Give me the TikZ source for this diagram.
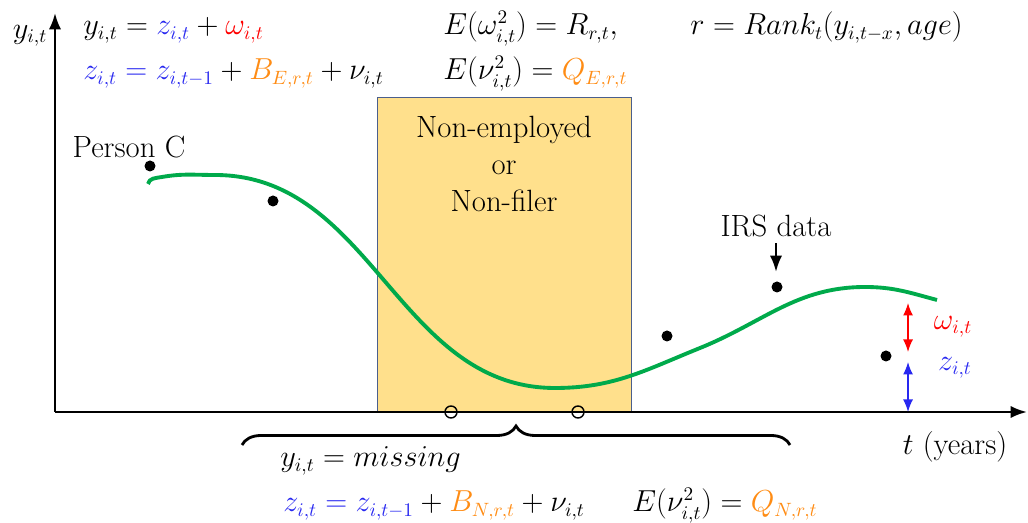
\documentclass[tikz,border=0pt]{standalone}
\usepackage{xcolor}
\usetikzlibrary{arrows.meta,decorations.pathreplacing}
\definecolor{zblue}{RGB}{40,40,240}
\definecolor{borange}{RGB}{255,140,20}
\definecolor{curvegreen}{RGB}{0,170,75}
\definecolor{boxfill}{RGB}{255,224,140}
\definecolor{boxline}{RGB}{75,95,140}

\begin{document}
\begin{tikzpicture}[>=Latex,font=\fontsize{16.3}{19}\selectfont,lbl/.style={font=\fontsize{17.5}{21}\selectfont},axis/.style={->,line width=1.4pt},obs/.style={circle,fill=black,inner sep=0pt,minimum size=0.22cm},gap/.style={circle,draw=black,thick,inner sep=0pt,minimum size=0.24cm},eqn/.style={anchor=base west,inner sep=0pt},component/.style={{Latex[length=2.5mm,width=2mm]}-{Latex[length=2.5mm,width=2mm]},thick}]
\useasboundingbox (0,0) rectangle (20.56,10.46);
\node[draw=boxline,line width=0.8pt,fill=boxfill,minimum width=5.08cm,minimum height=6.28cm,anchor=south west,inner sep=0pt] (gapbox) at (7.54,2.22) {};
\node[lbl,align=center,anchor=north] (gaptext) at (10.08,8.26) {Non-employed\\or\\Non-filer};
\coordinate (origin) at (1.10,2.22);
\coordinate (ytop) at (1.10,10.20);
\coordinate (xend) at (20.54,2.22);
\draw[axis] (origin) -- (ytop);
\draw[axis] (origin) -- (xend);
\node (ylabel) at (0.60,9.74) {$y_{i,t}$};
\node[lbl] (xlabel) at (19.10,1.52) {$t$ (years)};
\draw[curvegreen,line width=2.2pt] (2.96,6.78) to[out=80,in=190] (3.24,6.92) to[out=10,in=180] (4.30,6.96) to[out=0,in=180] (11.10,2.70) to[out=0,in=202] (14.00,3.50) to[out=22,in=180] (17.30,4.72) to[out=0,in=165] (18.74,4.46);
\node[obs] (pC1) at (3.00,7.14) {};
\node[obs] (pC2) at (5.46,6.44) {};
\node[obs] (pC3) at (13.34,3.74) {};
\node[obs] (pC4) at (15.54,4.72) {};
\node[obs] (pC5) at (17.72,3.34) {};
\node[gap] (miss1) at (9.02,2.22) {};
\node[gap] (miss2) at (11.56,2.22) {};
\node[lbl] (personC) at (2.58,7.52) {Person C};
\node[lbl] (irs) at (15.52,5.94) {IRS data};
\draw[->,line width=1.4pt] (irs.south) -- (15.52,5.02);
\coordinate (omtop) at (18.16,4.40);
\coordinate (ombot) at (18.16,3.42);
\coordinate (ztop) at (18.16,3.22);
\draw[component,red] (omtop) -- (ombot);
\draw[component,zblue] (ztop) -- (origin -| ztop);
\node[red] (omlabel) at (19.06,3.92) {$\omega_{i,t}$};
\node[zblue] (zlabel) at (19.10,3.10) {$z_{i,t}$};
\draw[decorate,decoration={brace,amplitude=0.38cm},line width=1.6pt] (4.84,1.56) -- (15.80,1.56);
\node[eqn] (missing) at (5.60,1.12) {$y_{i,t} = missing$};
\node[eqn] (eqN1) at (5.66,0.22) {$\color{zblue}z_{i,t} = z_{i,t-1}\color{black} + \color{borange}B_{N,r,t}\color{black} + \nu_{i,t}$};
\node[eqn] (eqN2) at (12.64,0.22) {$E(\nu_{i,t}^2) = \color{borange}Q_{N,r,t}$};
% model equations
\node[eqn] (eqE1) at (1.66,9.76) {$y_{i,t} = \color{zblue}z_{i,t}\color{black} + \color{red}\omega_{i,t}$};
\node[eqn] (eqE2) at (1.66,8.86) {$\color{zblue}z_{i,t} = z_{i,t-1}\color{black} + \color{borange}B_{E,r,t}\color{black} + \nu_{i,t}$};
\node[eqn] (eqE3) at (8.86,9.76) {$E(\omega_{i,t}^2) = R_{r,t},$};
\node[eqn] (eqE4) at (8.86,8.86) {$E(\nu_{i,t}^2) = \color{borange}Q_{E,r,t}$};
\node[eqn] (eqR) at (13.80,9.76) {$r = Rank_t(y_{i,t-x}, age)$};
\end{tikzpicture}
\end{document}
